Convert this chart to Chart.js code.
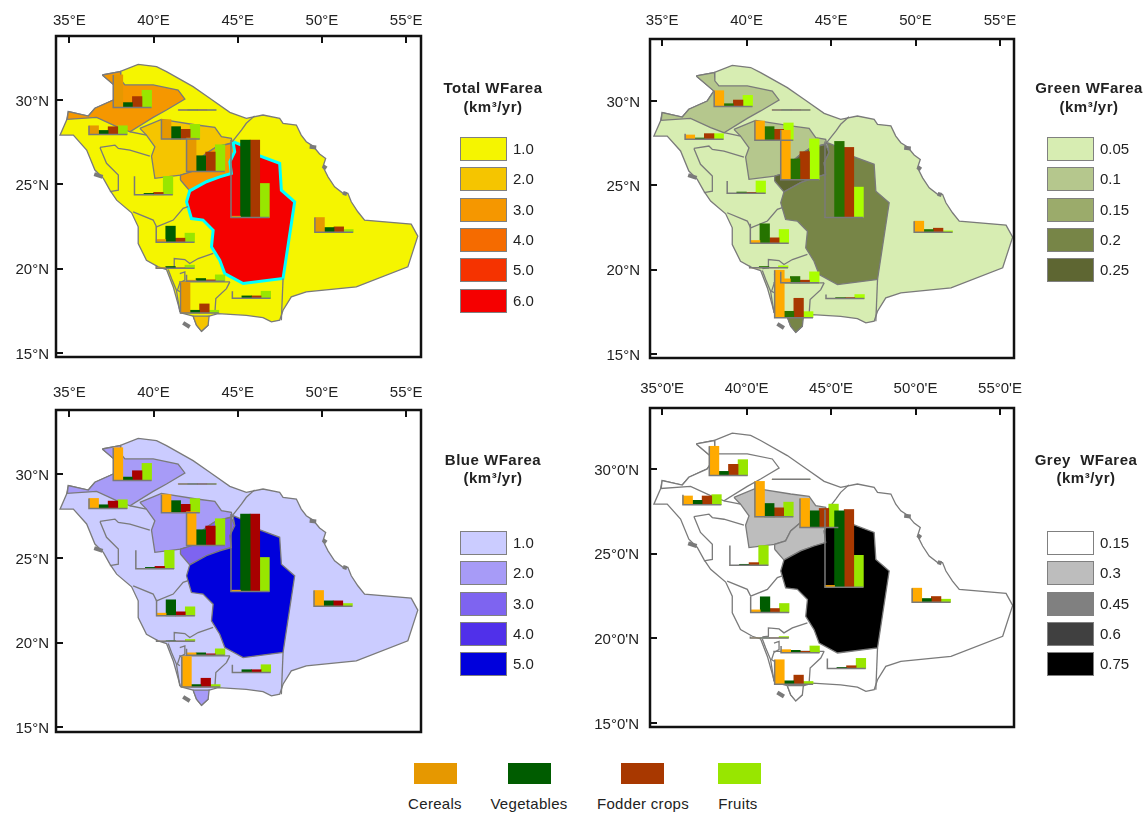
<!DOCTYPE html>
<html>
<head>
<meta charset="utf-8">
<script src="https://cdn.jsdelivr.net/npm/chart.js@4"></script>
<style>
body { margin: 0; background: #fff; width: 1145px; height: 814px; overflow: hidden; position: relative;
  font-family: "Liberation Sans", Arial, sans-serif; color: #222; }
canvas { position: absolute; }
.t { position: absolute; white-space: nowrap; font-size: 15px; line-height: 16px; }
.b { font-weight: bold; transform: translateX(-50%); letter-spacing: .5px; }
.c { transform: translateX(-50%); letter-spacing: .3px; }
.p { position: absolute; box-sizing: border-box; border: 1px solid #808080; }
</style>
</head>
<body>
<script>
// regions that carry a small bar chart
const regions = ['Jawf', 'Tabuk', 'Hail', 'Qassim', 'Riyadh', 'Madinah', 'Makkah', 'Eastern', 'Baha', 'Asir', 'Najran', 'Jazan', 'Northern'];
const crops = ['Cereals', 'Vegetables', 'Fodder crops', 'Fruits'];

// bar heights per region (same order as regions)
const cerealsTotal = [98, 26, 58, 100, 4, 0, 8, 44, 2, 3, 0, 92, 0];
const vegetablesTotal = [15, 12, 37, 47, 232, 4, 48, 14, 5, 8, 7, 8, 0];
const fodderTotal = [33, 23, 29, 58, 232, 7, 12, 16, 1, 4, 7, 27, 0];
const fruitsTotal = [52, 26, 44, 80, 102, 55, 27, 8, 9, 19, 21, 8, 0];

const cerealsGreen = [47, 13, 58, 148, 0, 0, 8, 33, 0, 12, 0, 142, 0];
const vegetablesGreen = [8, 4, 41, 62, 228, 4, 58, 8, 4, 19, 3, 19, 0];
const fodderGreen = [19, 17, 33, 84, 210, 3, 16, 12, 0, 8, 3, 58, 0];
const fruitsGreen = [33, 17, 52, 122, 91, 37, 41, 4, 6, 33, 12, 18, 0];

const cerealsBlue = [98, 30, 54, 101, 4, 0, 8, 47, 0, 7, 0, 91, 0];
const vegetablesBlue = [10, 11, 36, 47, 232, 4, 48, 16, 1, 7, 8, 7, 0];
const fodderBlue = [29, 22, 25, 58, 232, 7, 12, 16, 0, 4, 8, 26, 0];
const fruitsBlue = [51, 26, 42, 80, 102, 55, 27, 8, 5, 19, 23, 7, 0];

const cerealsGrey = [87, 26, 106, 87, 5, 0, 8, 42, 0, 9, 0, 73, 0];
const vegetablesGrey = [12, 13, 40, 50, 228, 3, 47, 11, 0, 7, 3, 10, 0];
const fodderGrey = [33, 26, 27, 57, 232, 8, 12, 17, 0, 4, 8, 27, 0];
const fruitsGrey = [47, 30, 44, 70, 95, 59, 27, 9, 4, 20, 30, 8, 0];

// where each small chart sits: left end of its base line
const lonTotal = [37.61, 36.17, 40.47, 41.96, 44.60, 38.87, 40.16, 49.58, 40.16, 41.96, 44.68, 41.60, 41.46];
const latTotal = [29.55, 27.96, 27.69, 25.77, 23.04, 24.39, 21.58, 22.17, 20.04, 19.27, 18.26, 17.39, 29.41];
const lonGreen = [38.08, 36.36, 40.49, 42.02, 44.64, 38.85, 40.22, 49.92, 40.18, 42.02, 44.70, 41.66, 41.50];
const latGreen = [29.68, 27.73, 27.67, 25.34, 23.10, 24.53, 21.58, 22.23, 20.12, 19.23, 18.30, 17.17, 29.47];
const lonBlue = [37.61, 36.17, 40.47, 41.96, 44.60, 38.95, 40.18, 49.53, 40.18, 41.96, 44.68, 41.68, 41.46];
const latBlue = [29.62, 27.96, 27.71, 25.77, 23.04, 24.39, 21.60, 22.17, 20.10, 19.27, 18.25, 17.39, 29.41];
const lonGrey = [37.79, 36.23, 40.49, 43.16, 44.64, 39.01, 40.24, 49.80, 40.22, 42.04, 44.78, 41.66, 41.50];
const latGrey = [29.62, 27.89, 27.17, 26.54, 23.02, 24.31, 21.52, 22.13, 20.02, 19.15, 18.22, 17.29, 29.39];

// map shapes, [lon, lat]
const country = [[36.96,31.48],[38.0,31.68],[39.09,32.11],[40.18,31.98],[40.77,31.68],[42.35,30.79],[43.34,30.1],[44.53,29.27],[45.51,28.91],[46.5,29.11],[47.49,28.91],[47.69,28.62],[48.48,28.52],[48.77,27.92],[49.07,27.53],[49.47,27.27],[49.86,26.8],[50.22,26.54],[50.06,26.05],[50.36,25.45],[50.75,24.86],[51.25,24.47],[51.54,24.47],[51.74,23.97],[52.13,23.38],[52.53,22.89],[55.3,22.65],[55.69,21.94],[55.1,20.12],[52.04,18.93],[49.07,18.64],[48.18,18.34],[47.69,17.55],[47.49,16.96],[47.0,16.86],[46.5,17.11],[45.51,17.25],[43.83,17.35],[43.14,17.15],[43.24,16.66],[42.85,16.3],[42.55,16.66],[42.35,17.2],[41.6,17.4],[41.17,18.93],[40.77,19.96],[40.28,20.12],[39.58,20.51],[39.09,21.5],[39.09,22.49],[38.7,23.32],[37.81,24.07],[37.41,24.66],[37.02,25.36],[36.52,25.85],[36.03,27.04],[35.24,27.92],[34.45,27.92],[34.84,28.81],[34.94,29.31],[36.13,29.05],[36.52,29.51],[37.61,30.0],[38.0,30.6],[36.96,31.48]];
const jawf = [[36.96,31.48],[38.04,31.68],[38.06,31.19],[38.30,30.89],[39.98,30.89],[41.46,30.59],[41.86,30.06],[40.77,29.41],[39.98,28.97],[38.60,28.12],[37.81,28.42],[36.62,28.97],[34.88,28.85],[34.94,29.31],[36.13,29.05],[36.52,29.51],[37.61,30.0],[38.0,30.59],[36.96,31.48]];
const hail = [[39.19,28.32],[40.47,28.85],[42.55,28.52],[43.64,28.38],[44.03,27.83],[44.62,27.73],[44.68,27.47],[43.74,27.23],[43.14,26.84],[42.55,26.34],[42.25,25.75],[41.60,25.55],[40.08,25.36],[39.88,26.68],[40.08,27.23],[39.58,27.92],[39.19,28.32]];
const qassim = [[41.60,25.26],[42.15,24.62],[43.14,25.16],[43.93,25.45],[44.62,25.65],[44.53,26.34],[44.82,26.94],[44.62,27.43],[43.74,27.23],[43.14,26.84],[42.55,26.34],[42.25,25.75],[41.60,25.55],[41.60,25.26]];
const riyadh = [[44.72,27.53],[45.22,27.33],[45.91,26.84],[47.49,26.25],[47.59,24.66],[48.38,23.97],[47.69,19.43],[45.32,19.13],[44.23,19.72],[43.93,20.51],[43.44,21.30],[43.54,22.29],[42.94,22.89],[42.25,22.98],[41.96,23.97],[42.15,24.62],[43.14,25.16],[43.93,25.45],[44.62,25.65],[44.53,26.34],[44.82,26.94],[44.72,27.53]];
const jazan = [[42.35,17.2],[43.3,17.2],[43.24,16.66],[42.85,16.30],[42.55,16.66],[42.35,17.2]];
const borders = [
  [[44.68,27.53],[45.22,28.22],[45.51,28.62],[46.0,29.06]],
  [[47.69,19.43],[47.59,16.96]],
  [[36.82,27.19],[37.71,27.33],[37.91,27.13],[38.60,27.03],[39.78,26.68]],
  [[36.82,27.19],[37.21,26.25],[37.91,25.55],[37.91,24.66],[37.41,24.57]],
  [[38.60,28.12],[39.58,27.92]],
  [[38.79,23.38],[39.98,22.89],[40.18,22.49],[41.17,22.89],[41.76,23.58],[42.05,23.68]],
  [[40.87,20.08],[41.26,20.12],[41.23,20.61],[41.86,20.55],[42.15,20.32],[42.65,20.61],[43.54,20.91]],
  [[40.87,19.96],[41.07,19.43],[41.36,18.74],[41.56,17.45]],
  [[41.56,19.72],[41.86,19.82],[41.86,19.33],[41.56,19.17],[41.42,18.74],[41.56,18.64]],
  [[41.52,19.23],[44.53,19.23]],
  [[44.53,19.23],[44.33,18.83],[43.70,18.24],[43.64,17.35]]
];
const islands = [
  [[41.76,16.8],[42.15,16.56]],
  [[36.48,25.61],[36.98,25.45]],
  [[49.27,27.23],[49.66,27.19]],
  [[50.06,26.09],[50.26,25.95]],
  [[51.25,24.5],[51.48,24.43]]
];

// classes: legend labels and colours, then the class of jawf, hail, qassim, riyadh, jazan
const labelsTotal = ['1.0', '2.0', '3.0', '4.0', '5.0', '6.0'];
const coloursTotal = ['#f5f500', '#f5c500', '#f59700', '#f56b00', '#f53300', '#f50000'];
const classesTotal = [2, 1, 2, 5, 1];
const labelsGreen = ['0.05', '0.1', '0.15', '0.2', '0.25'];
const coloursGreen = ['#d7edb2', '#b5c78d', '#9bab6b', '#778547', '#5e6632'];
const classesGreen = [1, 1, 4, 3, 3];
const labelsBlue = ['1.0', '2.0', '3.0', '4.0', '5.0'];
const coloursBlue = ['#cbccff', '#a79bf7', '#7e64f0', '#5030ea', '#0000dc'];
const classesBlue = [1, 1, 2, 4, 1];
const labelsGrey = ['0.15', '0.3', '0.45', '0.6', '0.75'];
const coloursGrey = ['#ffffff', '#bdbdbd', '#808080', '#404040', '#000000'];
const classesGrey = [0, 1, 1, 4, 0];

const legendColours = ['#e69800', '#005c00', '#a83800', '#98e600'];
const lonTicks = [35, 40, 45, 50, 55];
const latTicks = [15, 20, 25, 30];

const barUnit = 1 / 50.6;   // one height unit in degrees of latitude
const barWidth = 0.568;
const ink = '#7a7a7a';

function poly(points, shift, colour, order, line) {
  return {
    type: 'scatter', showLine: true, pointRadius: 0, tension: 0, order: order,
    data: points.map(p => ({x: p[0] + shift, y: p[1]})),
    fill: colour ? 'shape' : false, backgroundColor: colour || 'transparent',
    borderColor: line || ink, borderWidth: line ? 3 : 1.3
  };
}

function makeMap(cfg) {
  const W = 60, H = 36, pad = 30;
  const canvas = document.createElement('canvas');
  canvas.style.left = (cfg.frame[0] - W) + 'px';
  canvas.style.top = (cfg.frame[1] - H) + 'px';
  canvas.width = cfg.frame[2] - cfg.frame[0] + W + pad;
  canvas.height = cfg.frame[3] - cfg.frame[1] + H + pad;
  document.body.appendChild(canvas);

  const datasets = [poly(country, cfg.shift, cfg.colours[0], 20)];
  [jawf, hail, qassim, riyadh, jazan].forEach((shape, i) => {
    datasets.push(poly(shape, cfg.shift, cfg.colours[cfg.classes[i]], 19 - i, (i == 3 && cfg.ring) ? cfg.ring : null));
  });
  borders.forEach(b => datasets.push(poly(b, cfg.shift, null, 8)));
  islands.forEach(b => {
    const d = poly(b, cfg.shift, null, 8);
    d.borderWidth = 4;
    datasets.push(d);
  });

  // one bar dataset per crop, grouped around the middle of each small chart
  cfg.bars.forEach((vals, c) => {
    datasets.push({
      type: 'bar', label: crops[c], order: 2, backgroundColor: cfg.barColours[c], barThickness: 9.6,
      data: vals.map((v, i) => ({x: cfg.lon[i] + barWidth * 2, y: [cfg.lat[i], cfg.lat[i] + v * barUnit]}))
    });
  });

  // L shaped axis of each small chart
  const axes = [];
  regions.forEach((r, i) => {
    const top = Math.max(...cfg.bars.map(v => v[i]));
    axes.push({x: cfg.lon[i], y: cfg.lat[i] + top * barUnit}, {x: cfg.lon[i], y: cfg.lat[i]},
      {x: cfg.lon[i] + barWidth * 4, y: cfg.lat[i]}, {x: null, y: null});
  });
  datasets.push({type: 'scatter', showLine: true, pointRadius: 0, order: 1, data: axes, borderColor: ink, borderWidth: 1.5, spanGaps: false});

  const font = {family: '"Liberation Sans", Arial, sans-serif', size: 15};
  new Chart(canvas, {
    type: 'scatter',
    data: {datasets: datasets},
    plugins: [{
      id: 'frame',
      afterDraw(chart) {
        const a = chart.chartArea, ctx = chart.ctx;
        ctx.save();
        ctx.strokeStyle = '#111';
        ctx.lineWidth = 2.5;
        ctx.strokeRect(a.left, a.top, a.right - a.left, a.bottom - a.top);
        ctx.restore();
      }
    }],
    options: {
      responsive: false, animation: false,
      layout: {autoPadding: false, padding: {right: pad, bottom: pad}},
      plugins: {legend: {display: false}, tooltip: {enabled: false}},
      scales: {
        x: {
          type: 'linear', position: 'top', offset: false, min: cfg.lonRange[0], max: cfg.lonRange[1],
          afterFit: s => { s.height = H; },
          afterBuildTicks: s => { s.ticks = lonTicks.map(v => ({value: v})); },
          grid: {offset: false, drawOnChartArea: false, color: '#111', lineWidth: 2, tickLength: -7},
          border: {display: false},
          ticks: {autoSkip: false, maxRotation: 0, padding: cfg.lonPad, color: '#222', font: font, callback: v => v + cfg.lonSuffix}
        },
        y: {
          type: 'linear', position: 'left', min: cfg.latRange[0], max: cfg.latRange[1],
          afterFit: s => { s.width = W; },
          afterBuildTicks: s => { s.ticks = latTicks.map(v => ({value: v})); },
          grid: {drawOnChartArea: false, color: '#111', lineWidth: 2, tickLength: -7},
          border: {display: false},
          ticks: {autoSkip: false, padding: cfg.latPad, labelOffset: 1.5, color: '#222', font: font, callback: v => v + cfg.latSuffix}
        }
      }
    }
  });
}

function addText(text, x, y, cls) {
  const d = document.createElement('div');
  d.className = 't ' + (cls || '');
  d.style.left = x + 'px';
  d.style.top = (y - 8) + 'px';
  d.innerHTML = text;
  document.body.appendChild(d);
}

function addPatch(x, y, w, h, colour, border) {
  const d = document.createElement('div');
  d.className = 'p';
  d.style.cssText = 'left:' + x + 'px;top:' + y + 'px;width:' + w + 'px;height:' + h + 'px;background:' + colour + ';border-color:' + border;
  document.body.appendChild(d);
}

function addLegend(title, labels, colours, cx, titleY, unitY, px, tops) {
  addText(title, cx, titleY, 'b');
  addText('(km³/yr)', cx, unitY, 'b');
  labels.forEach((l, i) => {
    addPatch(px, tops[i], 47, 24, colours[i], '#808080');
    addText(l, px + 53, tops[i] + 12);
  });
}

makeMap({
  frame: [56, 36, 421.5, 357], lonRange: [34.21, 55.88], latRange: [14.78, 33.79], shift: 0,
  colours: coloursTotal, classes: classesTotal, ring: '#00ffff', lonPad: 13, latPad: 14,
  bars: [cerealsTotal, vegetablesTotal, fodderTotal, fruitsTotal], lon: lonTotal, lat: latTotal,
  barColours: ['#e69800', '#005c00', '#a83800', '#98e600'], lonSuffix: '°E', latSuffix: '°N'
});
makeMap({
  frame: [649.5, 39, 1014, 358], lonRange: [34.28, 55.83], latRange: [14.78, 33.67], shift: 0.06,
  colours: coloursGreen, classes: classesGreen, lonPad: 16, latPad: 17,
  bars: [cerealsGreen, vegetablesGreen, fodderGreen, fruitsGreen], lon: lonGreen, lat: latGreen,
  barColours: ['#ffaa00', '#267300', '#a83800', '#aaff00'], lonSuffix: '°E', latSuffix: '°N'
});
makeMap({
  frame: [56, 410, 421.5, 732], lonRange: [34.21, 55.88], latRange: [14.72, 33.79], shift: 0,
  colours: coloursBlue, classes: classesBlue, lonPad: 15, latPad: 14,
  bars: [cerealsBlue, vegetablesBlue, fodderBlue, fruitsBlue], lon: lonBlue, lat: latBlue,
  barColours: ['#ffaa00', '#005c00', '#a80000', '#98e600'], lonSuffix: '°E', latSuffix: '°N'
});
makeMap({
  frame: [649.5, 408, 1014, 727], lonRange: [34.28, 55.83], latRange: [14.76, 33.6], shift: 0.06,
  colours: coloursGrey, classes: classesGrey, lonPad: 17, latPad: 18,
  bars: [cerealsGrey, vegetablesGrey, fodderGrey, fruitsGrey], lon: lonGrey, lat: latGrey,
  barColours: ['#ffaa00', '#005c00', '#a83800', '#98e600'], lonSuffix: "°0'E", latSuffix: "°0'N"
});

addLegend('Total WFarea', labelsTotal, coloursTotal, 493, 88, 107, 460, [137, 167, 198, 228, 258, 289]);
addLegend('Green WFarea', labelsGreen, coloursGreen, 1089, 88, 107, 1047, [137, 167, 198, 228, 258]);
addLegend('Blue WFarea', labelsBlue, coloursBlue, 493, 460, 478, 460, [531, 561, 592, 622, 652]);
addLegend('Grey&nbsp;&nbsp;WFarea', labelsGrey, coloursGrey, 1086, 460, 478, 1047, [531, 561, 592, 622, 652]);

const legendX = [413, 507, 620, 717];
const legendTextX = [435, 529, 643, 738];
crops.forEach((c, i) => {
  addPatch(legendX[i], 762, 45, 23, legendColours[i], '#fff');
  addText(c, legendTextX[i], 804, 'c');
});
</script>
</body>
</html>
